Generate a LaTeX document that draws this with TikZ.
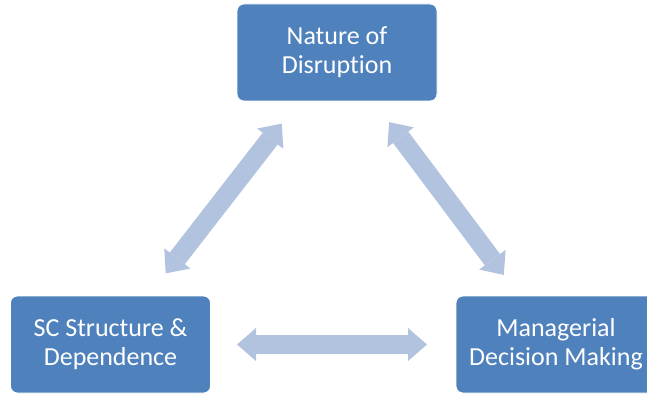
\documentclass[tikz,border=0pt]{standalone}
\usepackage{fontspec}
\setmainfont[Ligatures={NoCommon}]{Carlito}
\usetikzlibrary{arrows.meta}
\definecolor{boxblue}{HTML}{4F81BD}
\definecolor{arrowblue}{HTML}{B1C3DE}
\tikzset{
  box/.style={draw=white, line width=0.8pt, fill=boxblue, rounded corners=7pt,
    minimum width=200pt, minimum height=97pt, align=center, text=white,
    font=\fontsize{26pt}{29pt}\selectfont, inner sep=0pt},
  bigarrow/.style={draw=arrowblue, line width=19pt,
    {Triangle[width=33pt,length=19pt,line width=0pt]}-{Triangle[width=33pt,length=19pt,line width=0pt]}}
}
\begin{document}
\begin{tikzpicture}[x=1pt,y=-1pt]
\useasboundingbox (0,0) rectangle (647,395);
\node[box] (top) at (337,52.5) {Nature of\\Disruption};
\node[box] (left) at (110.5,344.5) {SC Structure \&\\Dependence};
\node[box] (right) at (556,344.5) {Managerial\\Decision Making};
\draw[bigarrow, shorten <=90pt, shorten >=90pt] (left.center) -- (top.center);
\draw[bigarrow, shorten <=87pt, shorten >=87pt] (top.center) -- (right.center);
\draw[bigarrow, shorten <=126.5pt, shorten >=129pt] (left.center) -- (right.center);
\end{tikzpicture}
\end{document}
